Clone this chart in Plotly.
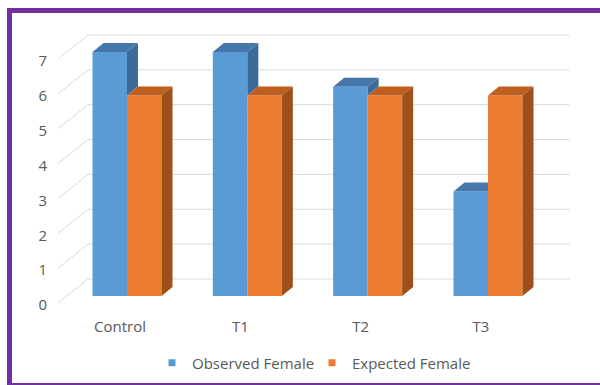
import plotly.graph_objects as go

# ---- data ----
categories = ["Control", "T1", "T2", "T3"]
observed_female = [7, 7, 6, 3]
expected_female = [5.75, 5.75, 5.75, 5.75]
y_ticks = [0, 1, 2, 3, 4, 5, 6, 7]
series_names = ["Observed Female", "Expected Female"]

# ---- styling ----
W, H = 600, 385
PLOT_L, PLOT_R, PLOT_T, PLOT_B = 50, 580, 20, 312  # plot area in px
X0_PX, PX_PER_X = 127, 120.33   # pixel of category 0, px per category
Y0_PX, PX_PER_Y = 296, 34.86    # pixel of value 0, px per unit

BLUE, BLUE_TOP, BLUE_SIDE = "#5B9BD5", "#4677AB", "#3D6A99"
ORANGE, ORANGE_TOP, ORANGE_SIDE = "#ED7D31", "#BE5F1F", "#9E4F1A"
GRID = "#D9D9D9"
TEXT = "#595959"
FONT = "Open Sans"
FONT_SIZE = 15
BAR_W = 0.2867

x_range = [(PLOT_L - X0_PX) / PX_PER_X, (PLOT_R - X0_PX) / PX_PER_X]
y_range = [-(PLOT_B - Y0_PX) / PX_PER_Y, (Y0_PX - PLOT_T) / PX_PER_Y]

# depth offsets of the 3D box (px -> data units)
bdx, bdy = 11 / PX_PER_X, 9 / PX_PER_Y              # bar depth
wall_front = (-8.75 / PX_PER_X, -7 / PX_PER_Y)      # axis front plane
wall_back = (21.25 / PX_PER_X, 17 / PX_PER_Y)       # back wall plane

xs = list(range(len(categories)))

fig = go.Figure()

# front faces
fig.add_trace(go.Bar(x=xs, y=observed_female, width=BAR_W, offset=-BAR_W,
                     marker=dict(color=BLUE, line=dict(width=0)),
                     name=series_names[0], showlegend=False))
fig.add_trace(go.Bar(x=xs, y=expected_female, width=BAR_W, offset=0,
                     marker=dict(color=ORANGE, line=dict(width=0)),
                     name=series_names[1], showlegend=False))


def poly_trace(polys, color):
    px, py = [], []
    for p in polys:
        for (a, b) in p + [p[0]]:
            px.append(a)
            py.append(b)
        px.append(None)
        py.append(None)
    return go.Scatter(x=px, y=py, mode="lines", fill="toself", fillcolor=color,
                      line=dict(width=0, color=color), hoverinfo="skip",
                      showlegend=False)


blue_top, blue_side, orange_top, orange_side = [], [], [], []
for i, hb, ho in zip(xs, observed_female, expected_female):
    xl, xm, xr = i - BAR_W, i, i + BAR_W
    if hb >= ho:
        blue_top.append([(xl, hb), (xm, hb), (xm + bdx, hb + bdy), (xl + bdx, hb + bdy)])
        if hb > ho:
            blue_side.append([(xm, ho), (xm, hb), (xm + bdx, hb + bdy), (xm + bdx, ho + bdy)])
    else:
        blue_top.append([(xl, hb), (xm, hb), (xm, hb + bdy), (xl + bdx, hb + bdy)])
    orange_top.append([(xm, ho), (xr, ho), (xr + bdx, ho + bdy), (xm + bdx, ho + bdy)])
    orange_side.append([(xr, 0), (xr, ho), (xr + bdx, ho + bdy), (xr + bdx, bdy)])

fig.add_trace(poly_trace(blue_side, BLUE_SIDE))
fig.add_trace(poly_trace(blue_top, BLUE_TOP))
fig.add_trace(poly_trace(orange_top, ORANGE_TOP))
fig.add_trace(poly_trace(orange_side, ORANGE_SIDE))

# legend entries
for name, color in zip(series_names, [BLUE, ORANGE]):
    fig.add_trace(go.Scatter(x=[None], y=[None], mode="markers", name=name,
                             marker=dict(symbol="square", size=7, color=color)))

# gridlines on the side wall and back wall
shapes = []
x_left_front = -0.5 + wall_front[0]
x_left_back = -0.5 + wall_back[0]
x_right_back = len(categories) - 0.5 + wall_back[0]
for v in y_ticks:
    shapes.append(dict(type="line", xref="x", yref="y", layer="below",
                       x0=x_left_front, y0=v + wall_front[1],
                       x1=x_left_back, y1=v + wall_back[1],
                       line=dict(color=GRID, width=1)))
    shapes.append(dict(type="line", xref="x", yref="y", layer="below",
                       x0=x_left_back, y0=v + wall_back[1],
                       x1=x_right_back, y1=v + wall_back[1],
                       line=dict(color=GRID, width=1)))


def paper_x(px):
    return (px - PLOT_L) / (PLOT_R - PLOT_L)


def paper_y(py):
    return (PLOT_B - py) / (PLOT_B - PLOT_T)


# purple frame
shapes.append(dict(type="rect", xref="paper", yref="paper", layer="above",
                   x0=paper_x(9.5), x1=paper_x(606), y0=paper_y(385.5), y1=paper_y(10.5),
                   line=dict(color="#7030A0", width=5), fillcolor="rgba(0,0,0,0)"))

fig.update_layout(
    width=W, height=H,
    margin=dict(l=PLOT_L, r=W - PLOT_R, t=PLOT_T, b=H - PLOT_B, autoexpand=False),
    paper_bgcolor="white", plot_bgcolor="white",
    barmode="overlay",
    font=dict(family=FONT, size=FONT_SIZE, color=TEXT),
    shapes=shapes,
    showlegend=True,
    legend=dict(orientation="h", x=paper_x(312), xanchor="center",
                y=paper_y(363), yanchor="middle", entrywidth=115,
                font=dict(size=FONT_SIZE, color=TEXT), bgcolor="rgba(0,0,0,0)"),
    xaxis=dict(range=x_range, tickvals=xs, ticktext=categories,
               showgrid=False, zeroline=False, showline=False, ticks="",
               ticklabelshift=-7, ticklabelstandoff=4, fixedrange=True),
    yaxis=dict(range=y_range, tickvals=y_ticks, showgrid=False, zeroline=False,
               showline=False, ticks="", ticklabelshift=9, ticklabelstandoff=2,
               fixedrange=True),
)

fig.write_html("out.html")
